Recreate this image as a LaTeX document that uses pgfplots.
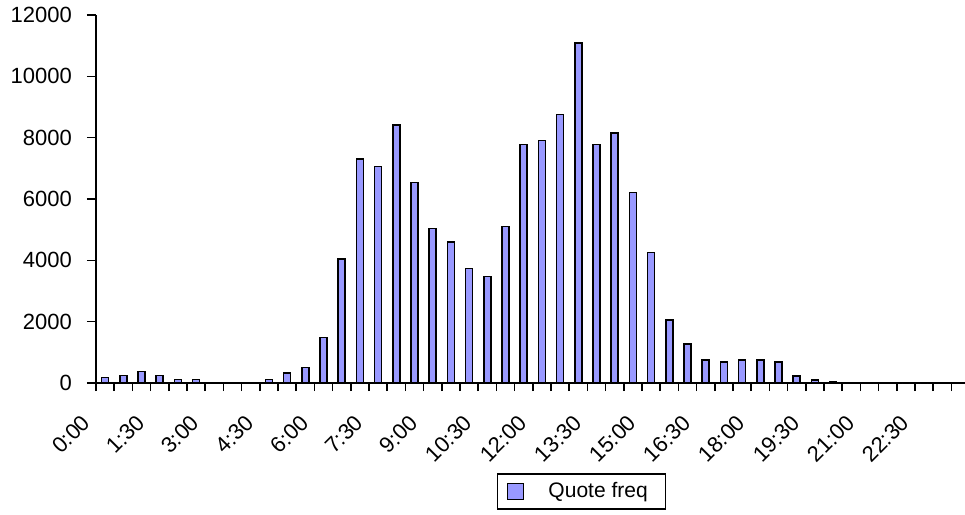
\documentclass[border=0pt]{standalone}
\usepackage{pgfplots}
\pgfplotsset{compat=1.18}
\usepackage{fontspec}
\setmainfont{Liberation Sans}
\definecolor{barblue}{HTML}{9999FF}
\begin{document}
\fontsize{21pt}{25pt}\selectfont
\begin{tikzpicture}
\useasboundingbox (-96pt,-131pt) rectangle (869pt,383pt);
\begin{axis}[
  at={(0pt,0pt)}, anchor=south west,
  scale only axis, width=873.6pt, height=368pt,
  xmin=-0.5, xmax=47.5, ymin=0, ymax=12000,
  axis x line*=bottom, axis y line*=left,
  axis line style={-, line width=1.5pt},
  ybar, bar width=7pt,
  scaled y ticks=false,
  ytick={0,2000,4000,6000,8000,10000,12000},
  yticklabels={0,2000,4000,6000,8000,10000,12000},
  xtick={0,3,...,45},
  xticklabels={0:00,1:30,3:00,4:30,6:00,7:30,9:00,10:30,12:00,13:30,15:00,16:30,18:00,19:30,21:00,22:30},
  minor xtick={-0.5,0.5,...,47.5},
  tick align=outside, major tick length=9pt, minor tick length=8pt,
  every tick/.style={line width=1.5pt, black},
  major x tick style={draw=none},
  tick label style={font=\fontsize{22pt}{26pt}\selectfont},
  xticklabel style={inner sep=0pt, anchor=east, xshift=-19pt, yshift=-27pt, rotate=45},
  yticklabel style={inner sep=0pt, xshift=-15pt},
  legend style={at={(0.459,-0.2446)}, anchor=north west, draw=black, line width=1.5pt,
    inner xsep=9pt, inner ysep=5pt,
    nodes={inner xsep=9pt, inner ysep=3.5pt},
    font=\fontsize{21pt}{25pt}\selectfont},
  legend image code/.code={\draw[fill=barblue, draw=black, line width=1.5pt] (0pt,-8pt) rectangle (16pt,8pt); \path[draw=none, fill=none] (0pt,-0.1pt) rectangle (32pt,0.1pt);},
]
\addplot[fill=barblue, draw=black, line width=1.5pt] coordinates {
(0,180) (1,250) (2,380) (3,240) (4,110) (5,110) (6,0) (7,0) (8,0) (9,110)
(10,320) (11,510) (12,1480) (13,4050) (14,7300) (15,7060) (16,8420) (17,6540) (18,5040) (19,4590)
(20,3740) (21,3480) (22,5110) (23,7770) (24,7900) (25,8750) (26,11090) (27,7770) (28,8160) (29,6210)
(30,4260) (31,2050) (32,1270) (33,750) (34,690) (35,750) (36,750) (37,690) (38,230) (39,100)
(40,30) (41,0) (42,0) (43,0) (44,0) (45,0) (46,0) (47,0)
};
\addlegendentry{Quote freq}
\end{axis}
\end{tikzpicture}
\end{document}
